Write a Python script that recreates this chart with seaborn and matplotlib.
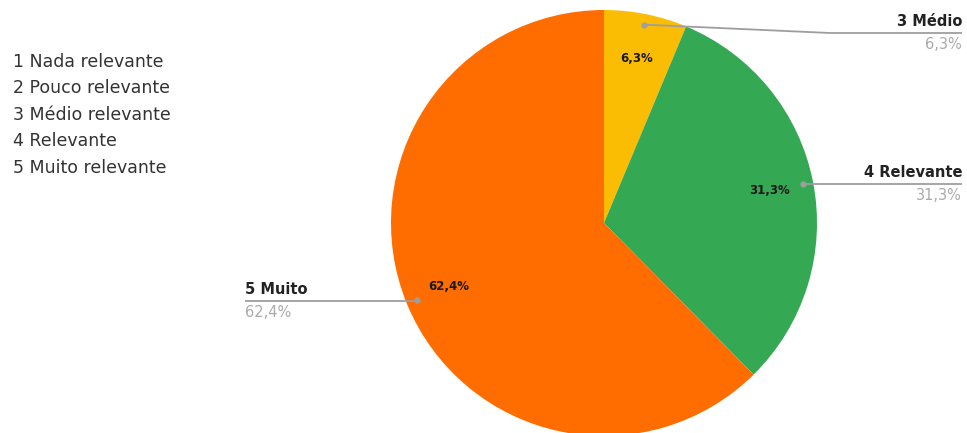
import numpy as np
import matplotlib
matplotlib.use("Agg")
import matplotlib.pyplot as plt
import seaborn as sns

# Data
legend_lines = ["1 Nada relevante", "2 Pouco relevante", "3 Médio relevante",
                "4 Relevante", "5 Muito relevante"]
categories = ["3 Médio", "4 Relevante", "5 Muito"]
values = [6.3, 31.3, 62.4]
colors = ["#FBBC04", "#34A853", "#FF6D01"]

sns.set_theme(style="white")
plt.rcParams['font.family'] = ['DejaVu Sans']

W, H = 967, 433
fig = plt.figure(figsize=(W / 100, H / 100), dpi=100)
ax = fig.add_axes([0, 0, 1, 1])
ax.set_xlim(0, W)
ax.set_ylim(0, H)
ax.set_aspect('equal')
ax.axis('off')

cx, cy, R = 604, H - 223, 213

def fmt(p):
    return f"{p:.1f}".replace('.', ',') + '%'

wedges, texts, autotexts = ax.pie(
    values, colors=colors, startangle=90, counterclock=False,
    center=(cx, cy), radius=R, autopct=fmt, pctdistance=0.79,
    wedgeprops=dict(linewidth=0), frame=True)
ax.set_xlim(0, W)
ax.set_ylim(0, H)
ax.axis('off')
for t in autotexts:
    t.set_fontsize(8.5)
    t.set_fontweight('bold')
    t.set_color('#1a1a1a')

line_c = '#9E9E9E'
# callouts: (label x, alignment, line y in pixel, elbow x)
callouts = [
    (962, 'right', 33, 830),
    (962, 'right', 184, None),
    (245, 'left', 301, None),
]
for w, cat, val, (tx, ha, ly, ex) in zip(wedges, categories, values, callouts):
    mid = np.deg2rad((w.theta1 + w.theta2) / 2)
    dx, dy = cx + 0.95 * R * np.cos(mid), cy + 0.95 * R * np.sin(mid)
    ly_d = H - ly
    if ex is not None:
        xs = [dx, ex, tx]
        ys = [dy, ly_d, ly_d]
    else:
        xs = [dx, tx]
        ys = [ly_d, ly_d]
    ax.plot(xs, ys, color=line_c, lw=1.3, solid_capstyle='butt', zorder=3)
    ax.plot([dx], [dy], 'o', color=line_c, ms=3.5, zorder=4)
    ax.text(tx, ly_d + 11.5, cat, ha=ha, va='center', fontsize=10.5,
            fontweight='bold', color='#222222')
    ax.text(tx, ly_d - 11.5, fmt(val), ha=ha, va='center', fontsize=10.5,
            color='#AAAAAA')

ys_left = [62, 88, 115, 141.5, 168]
for s, y in zip(legend_lines, ys_left):
    ax.text(13, H - y, s, ha='left', va='center', fontsize=12.5, color='#333333')

fig.savefig("out.png", dpi=100)
